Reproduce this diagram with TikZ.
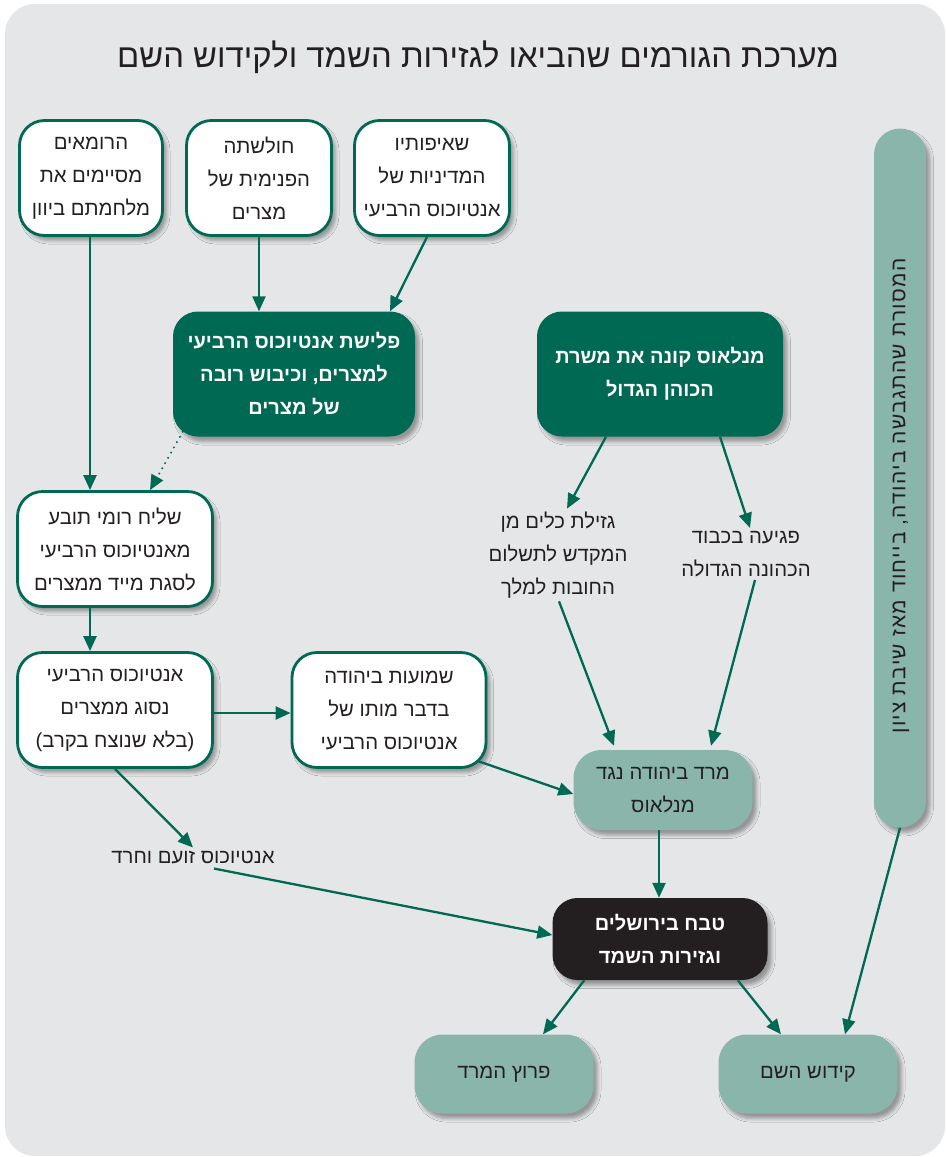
\documentclass[tikz,border=0pt]{standalone}
\usepackage{fontspec}
\newfontfamily\hebfont[Script=Hebrew]{Liberation Sans}
\newfontfamily\hebsp[Script=Hebrew,LetterSpace=6]{Liberation Sans}
\TeXXeTstate=1
\usetikzlibrary{arrows.meta,calc,shadows.blur}
\definecolor{dkgreen}{HTML}{006954}
\definecolor{ltgreen}{HTML}{8AB5AB}
\definecolor{bgc}{HTML}{E5E6E8}
\definecolor{txt}{HTML}{231F20}
\definecolor{blk}{HTML}{231F20}
\newcommand{\hb}[1]{\beginR #1\endR}
\begin{document}
\begin{tikzpicture}[x=1pt,y=-1pt,
  every node/.style={font=\hebfont\fontsize{20.3}{33}\selectfont, text=txt, align=center, inner sep=0pt},
  shd/.style={blur shadow={shadow xshift=4pt, shadow yshift=-5pt, shadow blur radius=3.5pt, shadow opacity=35}},
  box/.style={rounded corners=25pt, shd},
  wbox/.style={box, draw=dkgreen, line width=2.8pt, fill=white},
  gbox/.style={box, fill=dkgreen, text=white, font=\hebfont\bfseries\fontsize{20}{33}\selectfont},
  bbox/.style={box, fill=blk, text=white, font=\hebfont\bfseries\fontsize{20}{33}\selectfont},
  lbox/.style={box, rounded corners=28pt, fill=ltgreen},
  lbl/.style={inner sep=3pt},
  arr/.style={draw=dkgreen, line width=2.3pt, -{Triangle[length=15pt,width=13pt]}},
  dots/.style={draw=dkgreen, line width=2.2pt, line cap=round, dash pattern=on 0pt off 6pt, -{Triangle[length=15pt,width=13pt]}}
]
\useasboundingbox (0,0) rectangle (947,1157);
\fill[white] (0,0) rectangle (947,1157);
\fill[bgc, rounded corners=30pt] (5,4) rectangle (945,1156);

\node[font=\hebfont\fontsize{32.8}{36}\selectfont] (title) at (478,57) {\hb{מערכת הגורמים שהביאו לגזירות השמד ולקידוש השם}};

\node[wbox, minimum width=143pt, minimum height=115pt] (A) at (91,178) {\hb{הרומאים}\\\hb{מסיימים את}\\\hb{מלחמתם ביוון}};
\node[wbox, minimum width=145pt, minimum height=115pt] (B) at (259,178) {\hb{חולשתה}\\\hb{הפנימית של}\\\hb{מצרים}};
\node[wbox, minimum width=155pt, minimum height=115pt] (C) at (432,178) {\hb{שאיפותיו}\\\hb{המדיניות של}\\\hb{אנטיוכוס הרביעי}};

\node[gbox, minimum width=242pt, minimum height=125pt] (D) at (294,374) {\hb{פלישת אנטיוכוס הרביעי}\\\hb{למצרים, וכיבוש רובה}\\\hb{של מצרים}};
\node[gbox, minimum width=246pt, minimum height=125pt] (I) at (660,374) {\hb{מנלאוס קונה את משרת}\\\hb{הכוהן הגדול}};

\node[wbox, minimum width=195pt, minimum height=115pt] (E) at (115,549) {\hb{שליח רומי תובע}\\\hb{מאנטיוכוס הרביעי}\\\hb{לסגת מייד ממצרים}};
\node[wbox, minimum width=195pt, minimum height=115pt] (F) at (115,710) {\hb{אנטיוכוס הרביעי}\\\hb{נסוג ממצרים}\\\hb{(בלא שנוצח בקרב)}};
\node[wbox, minimum width=194pt, minimum height=115pt] (G) at (389,710) {\hb{שמועות ביהודה}\\\hb{בדבר מותו של}\\\hb{אנטיוכוס הרביעי}};

\node[lbl] (H) at (193,857) {\hb{אנטיוכוס זועם וחרד}};
\node[lbl] (J) at (558,555) {\hb{גזילת כלים מן}\\\hb{המקדש לתשלום}\\\hb{החובות למלך}};
\node[lbl] (K) at (746,554) {\hb{פגיעה בכבוד}\\\hb{הכהונה הגדולה}};

\node[lbox, minimum width=179pt, minimum height=80pt] (L) at (663,790) {\hb{מרד ביהודה נגד}\\\hb{מנלאוס}};
\node[bbox, minimum width=215pt, minimum height=82pt] (M) at (660,939) {\hb{טבח בירושלים}\\\hb{וגזירות השמד}};
\node[lbox, minimum width=179pt, minimum height=79pt] (N) at (504,1074) {\hb{פרוץ המרד}};
\node[lbox, minimum width=179pt, minimum height=79pt] (O) at (808,1074) {\hb{קידוש השם}};

\node[lbox, rounded corners=26pt, minimum width=52pt, minimum height=699pt] (P) at (900,478) {};
\node[rotate=90, font=\hebsp\fontsize{21}{25}\selectfont] (Pt) at (901,496) {\hb{המסורת שהתגבשה ביהודה, בייחוד מאז שיבת ציון}};

% helper coordinates
\coordinate (ax) at ($(A.south)+(-1,0)$);
\coordinate (lx) at ($(L.south)+(-4,0)$);

% connectors
\draw[arr] (ax) -- (ax |- E.north);
\draw[arr] (B.south) -- (B.south |- D.north);
\draw[arr] ($(C.south)+(-5,0)$) -- ($(D.north)+(96,0)$);
\draw[dots] ($(D.south west)+(10,-5)$) -- ($(E.north)+(35,0)$);
\draw[arr] (ax |- E.south) -- (ax |- F.north);
\draw[arr] ($(F.east)+(0,3)$) -- ($(G.west)+(0,3)$);
\draw[arr] (F.south) -- (H.north);
\draw[arr] ($(H.south)+(21,2)$) -- ($(M.west)+(0,-4)$);
\draw[arr] ($(I.south)+(-54,0)$) -- ($(J.north)+(9,0)$);
\draw[arr] ($(I.south)+(60,0)$) -- ($(K.north)+(4,0)$);
\draw[arr] ($(J.south)+(1,0)$) -- ($(L.north)+(-49,-4)$);
\draw[arr] ($(K.south)+(9,0)$) -- ($(L.north)+(48,-4)$);
\draw[arr] ($(G.south east)+(-10,-8)$) -- ($(L.west)+(0,4)$);
\draw[arr] (lx) -- (lx |- M.north);
\draw[arr] ($(M.south west)+(32,0)$) -- ($(N.north)+(39,0)$);
\draw[arr] ($(M.south east)+(-30,0)$) -- ($(O.north)+(-27,0)$);
\draw[arr] (P.south) -- ($(O.north)+(37,0)$);
\end{tikzpicture}
\end{document}
